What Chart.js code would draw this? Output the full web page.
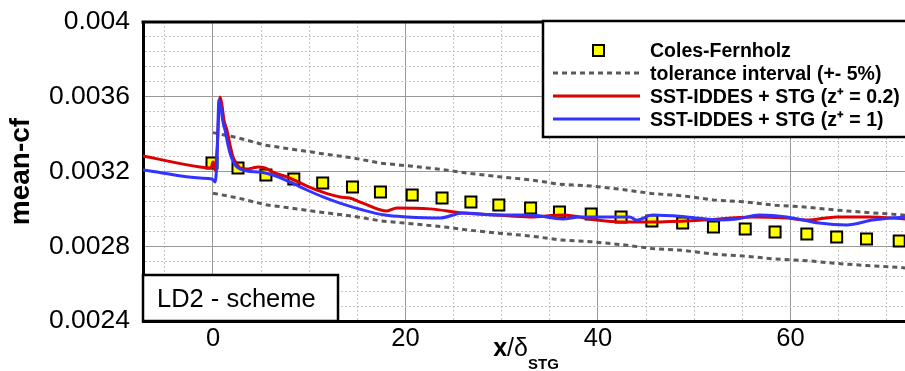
<!DOCTYPE html>
<html>
<head>
<meta charset="utf-8">
<script src="https://cdn.jsdelivr.net/npm/chart.js@4.4.0/dist/chart.umd.min.js"></script>
<style>
    html, body { margin: 0; padding: 0; background: #fff; }
</style>
</head>
<body>
<canvas id="cfChart" width="905" height="371"></canvas>
<script>
// values
const colesX = [-0.1, 2.6, 5.5, 8.4, 11.4, 14.5, 17.4, 20.7, 23.8, 26.8, 29.7, 33.0, 36.0, 39.3, 42.4, 45.6, 48.8, 52.0, 55.3, 58.4, 61.7, 64.8, 67.9, 71.3];
const colesCf = [0.003246, 0.003219, 0.003181, 0.00316, 0.003138, 0.003117, 0.00309, 0.003074, 0.003058, 0.003037, 0.003021, 0.003005, 0.002983, 0.002973, 0.002957, 0.002935, 0.002924, 0.002903, 0.002892, 0.002876, 0.002866, 0.00285, 0.002839, 0.002828];

const tolX = [0, 2.6, 5.5, 8.4, 11.4, 14.5, 17.4, 20.7, 23.8, 26.8, 29.7, 33.0, 36.0, 39.3, 42.4, 45.6, 48.8, 52.0, 55.3, 58.4, 61.7, 64.8, 67.9, 71.3, 72.5];
const tolUpper = [0.003408, 0.00338, 0.00334, 0.003318, 0.003295, 0.003273, 0.003245, 0.003228, 0.003211, 0.003189, 0.003172, 0.003155, 0.003132, 0.003122, 0.003105, 0.003082, 0.00307, 0.003048, 0.003037, 0.00302, 0.003009, 0.002993, 0.002981, 0.002969, 0.002962];
const tolLower = [0.003084, 0.003058, 0.003022, 0.003002, 0.002981, 0.002961, 0.002936, 0.00292, 0.002905, 0.002885, 0.00287, 0.002855, 0.002834, 0.002824, 0.002809, 0.002788, 0.002778, 0.002758, 0.002747, 0.002732, 0.002723, 0.002708, 0.002697, 0.002687, 0.00268];

const z02X = [-7.27, -1.35, -0.21, 0, 0.21, 0.42, 0.73, 0.93, 1.14, 1.45, 1.77, 2.08, 2.49, 2.8, 3.53, 4.15, 4.67, 5.4, 6.23, 8.0, 9.76, 11.4, 13.19, 14.2, 15.58, 18.07, 19.1, 22.53, 25.96, 29.49, 32.92, 36.34, 39.88, 42.26, 45.69, 50.88, 56.07, 59.6, 61.68, 64.8, 68.22, 71.9];
const z02Cf = [0.003283, 0.003224, 0.003219, 0.003251, 0.003208, 0.003315, 0.003599, 0.003556, 0.003476, 0.003422, 0.003342, 0.003278, 0.00324, 0.003219, 0.003213, 0.003219, 0.003224, 0.003219, 0.003197, 0.003165, 0.003122, 0.00309, 0.003064, 0.003058, 0.003031, 0.002989, 0.003005, 0.003, 0.002978, 0.002967, 0.002957, 0.002967, 0.00294, 0.00293, 0.00293, 0.00294, 0.002957, 0.002951, 0.00294, 0.002957, 0.002957, 0.002946];

const z1X = [-7.27, -6.54, -1.35, -0.1, 0.21, 0.42, 0.62, 0.83, 1.04, 1.25, 1.56, 1.77, 2.08, 2.49, 3.53, 4.88, 6.23, 8.0, 9.76, 11.42, 13.19, 15.58, 17.86, 20.15, 23.57, 25.96, 29.49, 32.92, 36.34, 38.11, 43.3, 44.0, 45.69, 49.22, 52.65, 54.41, 56.8, 59.6, 63.0, 65.84, 68.54, 71.9];
const z1Cf = [0.003208, 0.003203, 0.003165, 0.00316, 0.003144, 0.003262, 0.003583, 0.00354, 0.003465, 0.003422, 0.003342, 0.003299, 0.003256, 0.003224, 0.003203, 0.003197, 0.003181, 0.003144, 0.003101, 0.003064, 0.003031, 0.002994, 0.002967, 0.002957, 0.002951, 0.002978, 0.002967, 0.002967, 0.002946, 0.002957, 0.002957, 0.00294, 0.002967, 0.002957, 0.00294, 0.002946, 0.002967, 0.002957, 0.002924, 0.002914, 0.00294, 0.002957];

const xTickLabels = [0, 20, 40, 60];
const yTickLabels = [0.0024, 0.0028, 0.0032, 0.0036, 0.004];
const legendLabels = ['Coles-Fernholz', 'tolerance interval (+- 5%)', 'SST-IDDES + STG (z\u207A = 0.2)', 'SST-IDDES + STG (z\u207A = 1)'];
const schemeLabel = 'LD2 - scheme';

const FONT = "'Liberation Sans', Arial, Helvetica, sans-serif";
const RED = '#dd0000';
const BLUE = '#3333ff';
const GREY = '#5a5a5a';

const toPoints = (xs, ys) => xs.map((x, i) => ({ x: x, y: ys[i] }));

const isMajorX = v => Math.round(v) % 20 === 0;
const isMajorY = v => Math.round(v * 1e5) % 40 === 0;

// frame top line, scheme box, legend and x title
const decorPlugin = {
    id: 'decor',
    afterDraw(chart) {
        const { ctx, chartArea: a } = chart;
        ctx.save();

        ctx.strokeStyle = '#000';
        ctx.lineWidth = 3;
        ctx.beginPath();
        ctx.moveTo(a.left - 1.5, a.top);
        ctx.lineTo(a.right + 2, a.top);
        ctx.stroke();

        // scheme box
        ctx.fillStyle = '#fff';
        ctx.lineWidth = 2.5;
        ctx.fillRect(a.left, a.bottom - 46, 195, 46);
        ctx.strokeRect(a.left, a.bottom - 46, 195, 46);
        ctx.fillStyle = '#000';
        ctx.font = '25.5px ' + FONT;
        ctx.textAlign = 'left';
        ctx.textBaseline = 'alphabetic';
        ctx.fillText(schemeLabel, a.left + 14, a.bottom - 14);

        // legend
        const lx = a.right - 362, ly = a.top - 1;
        ctx.fillStyle = '#fff';
        ctx.fillRect(lx, ly, 370, 116);
        ctx.strokeRect(lx, ly, 370, 116);
        const rows = [36, 59, 82, 105];

        ctx.fillStyle = '#ffff00';
        ctx.lineWidth = 2;
        ctx.fillRect(lx + 50, ly + rows[0] - 12, 11, 11);
        ctx.strokeRect(lx + 50, ly + rows[0] - 12, 11, 11);

        ctx.lineWidth = 3;
        ctx.strokeStyle = GREY;
        ctx.setLineDash([5, 4]);
        ctx.beginPath();
        ctx.moveTo(lx + 10, ly + rows[1] - 7);
        ctx.lineTo(lx + 97, ly + rows[1] - 7);
        ctx.stroke();
        ctx.setLineDash([]);

        [[RED, rows[2]], [BLUE, rows[3]]].forEach(([c, r]) => {
            ctx.strokeStyle = c;
            ctx.beginPath();
            ctx.moveTo(lx + 10, ly + r - 7);
            ctx.lineTo(lx + 97, ly + r - 7);
            ctx.stroke();
        });

        ctx.fillStyle = '#000';
        ctx.font = 'bold 19.5px ' + FONT;
        legendLabels.forEach((t, i) => ctx.fillText(t, lx + 107, ly + rows[i]));

        // x axis title: x/δ with STG subscript
        const parts = [
            ['x', 'bold 25px ' + FONT, 0],
            ['/\u03B4', '25px ' + FONT, 0],
            ['STG', 'bold 15px ' + FONT, 13]
        ];
        let w = 0;
        parts.forEach(p => { ctx.font = p[1]; w += ctx.measureText(p[0]).width; });
        let x = (a.left + a.right) / 2 + 2 - w / 2;
        parts.forEach(p => {
            ctx.font = p[1];
            ctx.fillText(p[0], x, 356 + p[2]);
            x += ctx.measureText(p[0]).width;
        });

        ctx.restore();
    }
};

new Chart(document.getElementById('cfChart').getContext('2d'), {
    type: 'line',
    data: {
        datasets: [
            {
                label: legendLabels[3],
                data: toPoints(z1X, z1Cf),
                borderColor: BLUE,
                borderWidth: 3,
                pointRadius: 0,
                cubicInterpolationMode: 'monotone',
                order: 1
            },
            {
                label: legendLabels[2],
                data: toPoints(z02X, z02Cf),
                borderColor: RED,
                borderWidth: 3,
                pointRadius: 0,
                cubicInterpolationMode: 'monotone',
                order: 2
            },
            {
                label: legendLabels[0],
                data: toPoints(colesX, colesCf),
                showLine: false,
                pointStyle: 'rect',
                pointRadius: 7.8,
                pointBackgroundColor: '#ffff00',
                pointBorderColor: '#000',
                pointBorderWidth: 2,
                order: 3
            },
            {
                label: legendLabels[1],
                data: toPoints(tolX, tolUpper),
                borderColor: GREY,
                borderWidth: 3,
                borderDash: [5, 4],
                pointRadius: 0,
                order: 4
            },
            {
                label: legendLabels[1],
                data: toPoints(tolX, tolLower),
                borderColor: GREY,
                borderWidth: 3,
                borderDash: [5, 4],
                pointRadius: 0,
                order: 4
            }
        ]
    },
    options: {
        responsive: false,
        animation: false,
        layout: { autoPadding: false, padding: { top: 22, left: 0, right: 0, bottom: 0 } },
        plugins: {
            legend: { display: false },
            tooltip: { enabled: false }
        },
        scales: {
            x: {
                type: 'linear',
                min: -7.27,
                max: 71.9,
                afterFit: s => { s.height = 50; s.paddingRight = 0; },
                ticks: {
                    stepSize: 5,
                    includeBounds: false,
                    autoSkip: false,
                    maxRotation: 0,
                    padding: 3,
                    color: '#000',
                    font: { family: FONT, size: 25.5 },
                    callback: v => xTickLabels.includes(v) ? String(v) : ''
                },
                grid: {
                    drawTicks: false,
                    lineWidth: 1,
                    color: c => c.tick && isMajorX(c.tick.value) ? '#999999' : '#c4c4c4'
                },
                border: {
                    color: '#000',
                    width: 3,
                    dash: c => c.tick && !isMajorX(c.tick.value) ? [2, 2] : []
                }
            },
            y: {
                min: 0.0024,
                max: 0.004,
                afterFit: s => { s.width = 143; s.paddingTop = 0; s.paddingBottom = 0; },
                ticks: {
                    stepSize: 0.00008,
                    autoSkip: false,
                    padding: 13,
                    color: '#000',
                    font: { family: FONT, size: 26.5 },
                    callback: v => {
                        const r = Number(v.toFixed(4));
                        return isMajorY(v) && yTickLabels.includes(r) ? String(r) : '';
                    }
                },
                title: {
                    display: true,
                    text: 'mean-cf',
                    color: '#000',
                    font: { family: FONT, size: 28, weight: 'bold' },
                    padding: { top: 4, bottom: 0 }
                },
                grid: {
                    drawTicks: false,
                    lineWidth: 1,
                    color: c => c.tick && isMajorY(c.tick.value) ? '#999999' : '#c4c4c4'
                },
                border: {
                    color: '#000',
                    width: 3,
                    dash: c => c.tick && !isMajorY(c.tick.value) ? [2, 2] : []
                }
            }
        }
    },
    plugins: [decorPlugin]
});
</script>
</body>
</html>
